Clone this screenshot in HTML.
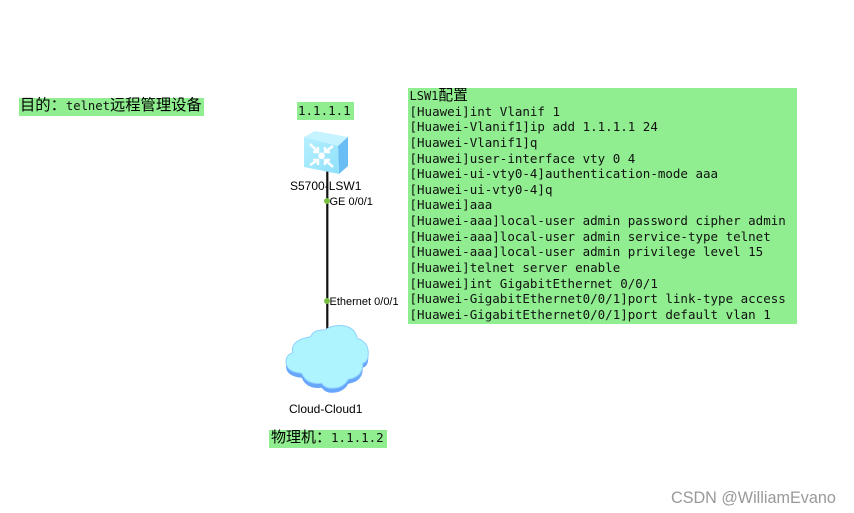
<!DOCTYPE html>
<html><head><meta charset="utf-8"><style>
html,body{margin:0;padding:0;background:#fff;width:854px;height:513px;overflow:hidden}
svg{display:block}
.m{font-family:"DejaVu Sans Mono","Liberation Mono",monospace;font-size:12.5px;fill:#111}
.c{font-family:"Noto Sans CJK SC","WenQuanYi Zen Hei",sans-serif;font-size:15px;fill:#000}
.s{font-family:"Liberation Sans",sans-serif;font-size:12px;fill:#000}
.p{font-family:"Liberation Sans",sans-serif;font-size:11px;fill:#000}
.w{font-family:"Liberation Sans",sans-serif;font-size:16.2px;fill:#999}
</style></head><body>
<svg width="854" height="513" viewBox="0 0 854 513" xmlns="http://www.w3.org/2000/svg">
<defs>
<path id="cl" d="M310.700 336.700Q313.300 329.300 325 330Q333.300 324 345 326Q355 328.300 357.300 338.300Q368.300 341.700 368.300 353.300Q368.300 361.700 362.700 363.300Q363.300 376.700 348.300 379.300Q343.300 388.300 331.700 388.300Q325 388.300 321.700 383.300Q306.700 385 301.700 373.300Q286 371.700 286 361.700Q286 355 292.700 352.700Q290 340 310.700 336.700Z"/>
<linearGradient id="f" x1="0" y1="0" x2="1" y2="1"><stop offset="0" stop-color="#b6f0ff"/><stop offset="1" stop-color="#8fe0fa"/></linearGradient>
</defs>
<rect x="408" y="88" width="389" height="236" fill="#90ee90"/>
<rect x="19" y="98" width="185" height="18" fill="#90ee90"/>
<rect x="297" y="102" width="57" height="18" fill="#90ee90"/>
<rect x="269" y="430" width="118" height="18" fill="#90ee90"/>

<path d="M327.300 165V331" stroke="#111" stroke-width="2.200" fill="none"/>
<circle cx="327" cy="201" r="3" fill="#7ac143"/>
<circle cx="327" cy="301" r="3" fill="#7ac143"/>

<!-- switch -->
<polygon points="304,137 315,131 348,137 338,146" fill="#c5f3ff"/>
<polygon points="338,146 348,137 348,166 339,174" fill="#69bdf5"/>
<polygon points="304,137 338,146 339,174 304,167" fill="url(#f)"/>
<g stroke="#fff" stroke-width="2.400" fill="none">
<path d="M310 144L318 152M313 152H318V147"/>
<path d="M333 146L325 152M330 152H325V147"/>
<path d="M310 165L318 160M313 160H318V165"/>
<path d="M333 167L325 160M330 160H325V165"/>
</g>
<circle cx="321.500" cy="155.800" r="3.300" fill="#fff"/>

<!-- cloud -->
<use href="#cl" fill="#67a6fb" transform="translate(0,4.500)"/>
<use href="#cl" fill="#aef4ff" stroke="#8fd2ff" stroke-width="1"/>

<text class="s" x="290" y="190">S5700-LSW1</text>
<text class="p" x="329.500" y="205">GE 0/0/1</text>
<text class="p" x="329.500" y="305">Ethernet 0/0/1</text>
<text class="s" x="289" y="413">Cloud-Cloud1</text>

<text x="20" y="110"><tspan class="c" style="font-size:15.300px">目的：</tspan><tspan class="m" style="font-size:12.200px">telnet</tspan><tspan class="c" style="font-size:15.300px">远程管理设备</tspan></text>
<text class="m" x="298" y="115">1.1.1.1</text>
<text x="271" y="442"><tspan class="c">物理机：</tspan><tspan class="m">1.1.1.2</tspan></text>

<text x="409.500" y="100"><tspan class="m" style="font-size:12px">LSW1</tspan><tspan class="c" style="font-size:14.700px">配置</tspan></text>
<text class="m" x="409.500" y="116">[Huawei]int Vlanif 1</text>
<text class="m" x="409.500" y="131">[Huawei-Vlanif1]ip add 1.1.1.1 24</text>
<text class="m" x="409.500" y="147">[Huawei-Vlanif1]q</text>
<text class="m" x="409.500" y="163">[Huawei]user-interface vty 0 4</text>
<text class="m" x="409.500" y="178">[Huawei-ui-vty0-4]authentication-mode aaa</text>
<text class="m" x="409.500" y="194">[Huawei-ui-vty0-4]q</text>
<text class="m" x="409.500" y="209">[Huawei]aaa</text>
<text class="m" x="409.500" y="225">[Huawei-aaa]local-user admin password cipher admin</text>
<text class="m" x="409.500" y="241">[Huawei-aaa]local-user admin service-type telnet</text>
<text class="m" x="409.500" y="256">[Huawei-aaa]local-user admin privilege level 15</text>
<text class="m" x="409.500" y="272">[Huawei]telnet server enable</text>
<text class="m" x="409.500" y="288">[Huawei]int GigabitEthernet 0/0/1</text>
<text class="m" x="409.500" y="303">[Huawei-GigabitEthernet0/0/1]port link-type access</text>
<text class="m" x="409.500" y="319">[Huawei-GigabitEthernet0/0/1]port default vlan 1</text>
<text class="w" x="671" y="503">CSDN @WilliamEvano</text>
</svg>
</body></html>
